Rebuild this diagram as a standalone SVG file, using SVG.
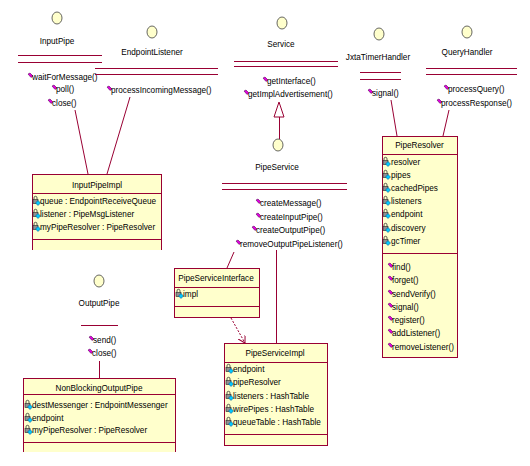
<svg xmlns="http://www.w3.org/2000/svg" xmlns:xlink="http://www.w3.org/1999/xlink" width="530" height="466" viewBox="0 0 530 466">
<style>
text{font-family:"Liberation Sans",Arial,sans-serif;font-size:8.2px;fill:#000}
.c{text-anchor:middle}
.ln{stroke:#990033;stroke-width:1;fill:none}
.cr{shape-rendering:crispEdges}
.box{fill:#ffffcc;stroke:#990033;stroke-width:1;shape-rendering:crispEdges}
.fill{fill:#ffffcc;stroke:none}
.ic{fill:#ffffcc;stroke:#404040;stroke-width:0.8}
</style>
<defs>
<g id="op"><polygon points="0,1 2,0 5,3 3,4.5" fill="#e000e0" stroke="#400040" stroke-width="0.5"/></g>
<g id="at"><path d="M1,3.5 V1.8 A1.5 1.5 0 0 1 4,1.8 V3.5" fill="none" stroke="#303030" stroke-width="0.8"/><rect x="0" y="3.5" width="5" height="4" fill="#909090" stroke="#202020" stroke-width="0.6"/><polygon points="5,4.5 7.5,7 5,9.5 2.5,7" fill="#00c8ff" stroke="#004080" stroke-width="0.5"/></g>
<marker id="open" markerWidth="8" markerHeight="8" refX="7" refY="4" orient="auto" markerUnits="userSpaceOnUse"><path d="M0,0 L7,4 L0,8" fill="none" stroke="#990033" stroke-width="1"/></marker>
</defs>
<rect width="530" height="466" fill="#fff"/>

<g id="connectors">
<line class="ln" x1="75" y1="110" x2="88" y2="174"/>
<line class="ln" x1="130" y1="97" x2="107" y2="174"/>
<line class="ln" x1="391" y1="100" x2="397" y2="136"/>
<line class="ln" x1="449" y1="110" x2="443" y2="136"/>
<line class="ln" x1="234" y1="252" x2="227" y2="268"/>
<line class="ln cr" x1="276" y1="250" x2="276" y2="343"/>
<line class="ln" x1="231" y1="318" x2="245" y2="343" stroke-dasharray="2,1.5" marker-end="url(#open)"/>
<line class="ln cr" x1="99" y1="361" x2="99" y2="378"/>
<line class="ln cr" x1="279" y1="117" x2="279" y2="139"/>
<polygon points="279,102 274,117 284,117" fill="#fff" stroke="#990033" stroke-width="1"/>
</g>

<g id="InputPipe">
<ellipse class="ic" cx="57" cy="18" rx="5" ry="6"/>
<text class="c" x="57" y="44">InputPipe</text>
<line class="ln cr" x1="18" y1="55" x2="102" y2="55"/>
<line class="ln cr" x1="18" y1="62" x2="102" y2="62"/>
<use xlink:href="#op" x="28" y="73"/><text x="32" y="80">waitForMessage()</text>
<use xlink:href="#op" x="52" y="85"/><text x="56" y="92">poll()</text>
<use xlink:href="#op" x="48" y="99"/><text x="52" y="106">close()</text>
</g>

<g id="EndpointListener">
<ellipse class="ic" cx="152" cy="32" rx="5" ry="6"/>
<text class="c" x="152" y="55">EndpointListener</text>
<line class="ln cr" x1="95" y1="68" x2="218" y2="68"/>
<line class="ln cr" x1="95" y1="74" x2="218" y2="74"/>
<use xlink:href="#op" x="107" y="86"/><text x="111" y="93">processIncomingMessage()</text>
</g>

<g id="Service">
<ellipse class="ic" cx="282" cy="23" rx="5" ry="6"/>
<text class="c" x="281" y="47">Service</text>
<line class="ln cr" x1="234" y1="61" x2="338" y2="61"/>
<line class="ln cr" x1="234" y1="66" x2="338" y2="66"/>
<use xlink:href="#op" x="263" y="77"/><text x="267" y="84">getInterface()</text>
<use xlink:href="#op" x="244" y="90"/><text x="248" y="97">getImplAdvertisement()</text>
</g>

<g id="JxtaTimerHandler">
<ellipse class="ic" cx="379" cy="34" rx="5" ry="6"/>
<text class="c" x="378" y="60">JxtaTimerHandler</text>
<line class="ln cr" x1="360" y1="72" x2="401" y2="72"/>
<line class="ln cr" x1="360" y1="79" x2="401" y2="79"/>
<use xlink:href="#op" x="368" y="89"/><text x="372" y="96">signal()</text>
</g>

<g id="QueryHandler">
<ellipse class="ic" cx="467" cy="32" rx="5" ry="6"/>
<text class="c" x="467" y="55">QueryHandler</text>
<line class="ln cr" x1="426" y1="68" x2="517" y2="68"/>
<line class="ln cr" x1="426" y1="74" x2="517" y2="74"/>
<use xlink:href="#op" x="444" y="85"/><text x="448" y="92">processQuery()</text>
<use xlink:href="#op" x="437" y="99"/><text x="441" y="106">processResponse()</text>
</g>

<g id="PipeResolver">
<rect class="box" x="382" y="136" width="75" height="221"/>
<line class="ln cr" x1="382" y1="154" x2="457" y2="154"/>
<line class="ln cr" x1="382" y1="253" x2="457" y2="253"/>
<text class="c" x="419.5" y="148">PipeResolver</text>
<use xlink:href="#at" x="383" y="157"/><text x="391" y="165">resolver</text>
<use xlink:href="#at" x="383" y="170"/><text x="391" y="178">pipes</text>
<use xlink:href="#at" x="383" y="183"/><text x="391" y="191">cachedPipes</text>
<use xlink:href="#at" x="383" y="196"/><text x="391" y="204">listeners</text>
<use xlink:href="#at" x="383" y="209"/><text x="391" y="217">endpoint</text>
<use xlink:href="#at" x="383" y="223"/><text x="391" y="231">discovery</text>
<use xlink:href="#at" x="383" y="236"/><text x="391" y="244">gcTimer</text>
<use xlink:href="#op" x="388" y="263"/><text x="392" y="270">find()</text>
<use xlink:href="#op" x="388" y="276"/><text x="392" y="283">forget()</text>
<use xlink:href="#op" x="388" y="290"/><text x="392" y="297">sendVerify()</text>
<use xlink:href="#op" x="388" y="303"/><text x="392" y="310">signal()</text>
<use xlink:href="#op" x="388" y="316"/><text x="392" y="323">register()</text>
<use xlink:href="#op" x="388" y="329"/><text x="392" y="336">addListener()</text>
<use xlink:href="#op" x="388" y="343"/><text x="392" y="350">removeListener()</text>
</g>

<g id="InputPipeImpl">
<rect class="fill" x="32" y="174" width="129" height="76"/>
<path class="ln cr" d="M32,250 V174 H161 V250"/>
<line class="ln cr" x1="32" y1="193" x2="161" y2="193"/>
<line class="ln cr" x1="32" y1="239" x2="161" y2="239"/>
<text class="c" x="97" y="188">InputPipeImpl</text>
<use xlink:href="#at" x="33" y="196"/><text x="40" y="204">queue : EndpointReceiveQueue</text>
<use xlink:href="#at" x="33" y="209"/><text x="40" y="217">listener : PipeMsgListener</text>
<use xlink:href="#at" x="33" y="222"/><text x="40" y="230">myPipeResolver : PipeResolver</text>
</g>

<g id="OutputPipe">
<ellipse class="ic" cx="99" cy="281" rx="5" ry="6"/>
<text class="c" x="99" y="306">OutputPipe</text>
<line class="ln cr" x1="81" y1="325" x2="118" y2="325"/>
<use xlink:href="#op" x="89" y="336"/><text x="93" y="343">send()</text>
<use xlink:href="#op" x="88" y="349"/><text x="92" y="356">close()</text>
</g>

<g id="NonBlockingOutputPipe">
<rect class="fill" x="23" y="378" width="152" height="74"/>
<path class="ln cr" d="M23,452 V378 H175 V452"/>
<line class="ln cr" x1="23" y1="394" x2="175" y2="394"/>
<line class="ln cr" x1="23" y1="442" x2="175" y2="442"/>
<text class="c" x="99" y="391">NonBlockingOutputPipe</text>
<use xlink:href="#at" x="25" y="400"/><text x="32" y="408">destMessenger : EndpointMessenger</text>
<use xlink:href="#at" x="25" y="413"/><text x="32" y="421">endpoint</text>
<use xlink:href="#at" x="25" y="425"/><text x="32" y="433">myPipeResolver : PipeResolver</text>
</g>

<g id="PipeService">
<ellipse class="ic" cx="278" cy="145" rx="5" ry="6"/>
<text class="c" x="277" y="170">PipeService</text>
<line class="ln cr" x1="222" y1="183" x2="347" y2="183"/>
<line class="ln cr" x1="222" y1="189" x2="347" y2="189"/>
<use xlink:href="#op" x="256" y="199"/><text x="260" y="206">createMessage()</text>
<use xlink:href="#op" x="256" y="213"/><text x="260" y="220">createInputPipe()</text>
<use xlink:href="#op" x="252" y="226"/><text x="256" y="233">createOutputPipe()</text>
<use xlink:href="#op" x="236" y="240"/><text x="240" y="247">removeOutputPipeListener()</text>
</g>

<g id="PipeServiceInterface">
<rect class="box" x="174" y="268" width="85" height="49"/>
<line class="ln cr" x1="174" y1="287" x2="259" y2="287"/>
<line class="ln cr" x1="174" y1="306" x2="259" y2="306"/>
<text class="c" x="216" y="281">PipeServiceInterface</text>
<use xlink:href="#at" x="176" y="289"/><text x="183" y="297">impl</text>
</g>

<g id="PipeServiceImpl">
<rect class="box" x="224" y="343" width="103" height="102"/>
<line class="ln cr" x1="224" y1="362" x2="327" y2="362"/>
<line class="ln cr" x1="224" y1="434" x2="327" y2="434"/>
<text class="c" x="275" y="356">PipeServiceImpl</text>
<use xlink:href="#at" x="226" y="364"/><text x="233" y="372">endpoint</text>
<use xlink:href="#at" x="226" y="377"/><text x="233" y="385">pipeResolver</text>
<use xlink:href="#at" x="226" y="391"/><text x="233" y="399">listeners : HashTable</text>
<use xlink:href="#at" x="226" y="404"/><text x="233" y="412">wirePipes : HashTable</text>
<use xlink:href="#at" x="226" y="417"/><text x="233" y="425">queueTable : HashTable</text>
</g>
</svg>
